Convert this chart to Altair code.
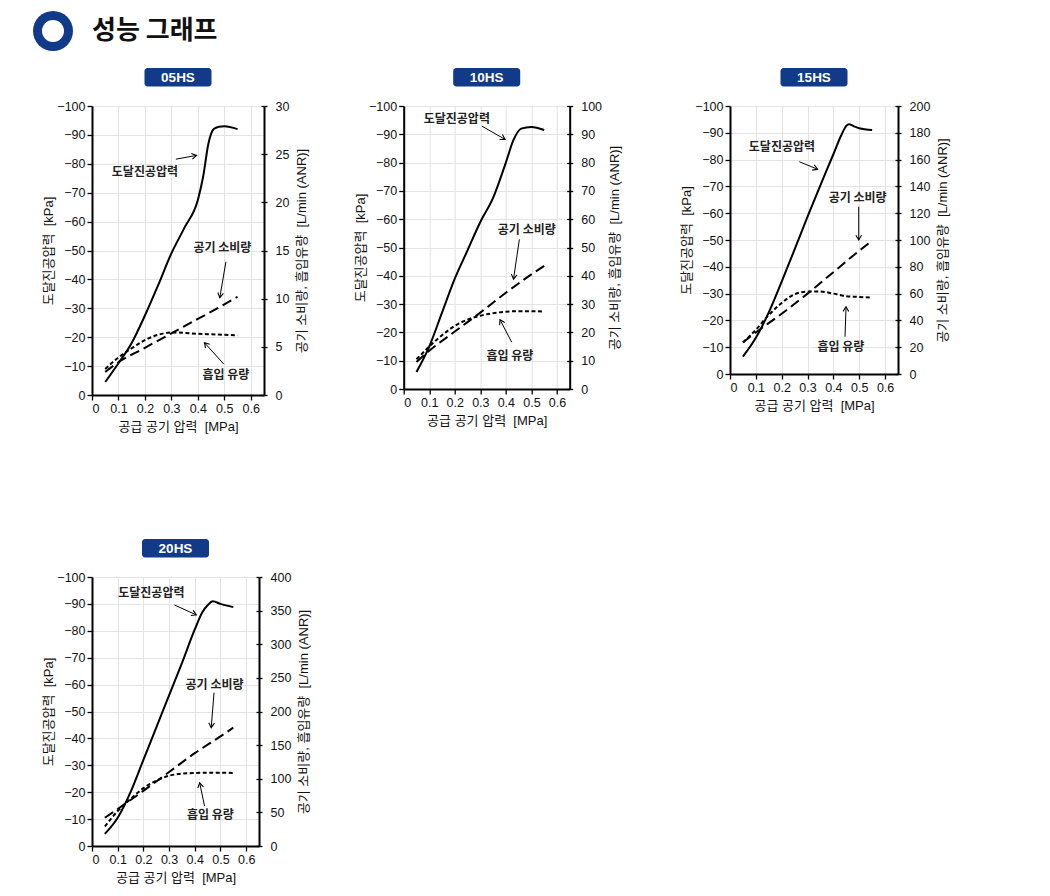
import math
import altair as alt
import pandas as pd

# ---------------- data ----------------
title_text = ["성능 그래프"]
models = ["05HS", "10HS", "15HS", "20HS"]
x_ticks = [0, 0.1, 0.2, 0.3, 0.4, 0.5, 0.6]
left_ticks = [0, -10, -20, -30, -40, -50, -60, -70, -80, -90, -100]
right_max = [30, 100, 200, 400]
right_step = [5, 10, 20, 50]

vac_p_05 = [0.05, 0.1, 0.15, 0.2, 0.25, 0.3, 0.35, 0.4, 0.42, 0.44, 0.46, 0.48, 0.5, 0.55]
vac_05 = [-4.5, -11, -18, -27.5, -38, -49, -58, -67.5, -75.5, -87, -92, -92.8, -93, -92]
vac_p_10 = [0.05, 0.1, 0.15, 0.2, 0.25, 0.3, 0.35, 0.4, 0.43, 0.46, 0.5, 0.55]
vac_10 = [-6, -15, -27, -39, -49, -59, -67.5, -80, -88, -92, -92.6, -91.5]
vac_p_15 = [0.05, 0.1, 0.15, 0.2, 0.25, 0.3, 0.35, 0.4, 0.43, 0.45, 0.46, 0.48, 0.5, 0.55]
vac_15 = [-6.5, -13.5, -23, -34.5, -46.5, -58.7, -70.5, -82, -89, -92.6, -93.2, -92.4, -91.7, -91]
vac_p_20 = [0.05, 0.1, 0.15, 0.2, 0.25, 0.3, 0.35, 0.4, 0.43, 0.45, 0.47, 0.5, 0.55]
vac_20 = [-4.5, -10.5, -20, -32, -44, -56, -68, -80.5, -87, -89.5, -91, -90, -88.8]

air_p = [0.05, 0.1, 0.2, 0.3, 0.4, 0.5, 0.55]
air_05 = [2.4, 3.4, 4.9, 6.4, 7.9, 9.4, 10.2]
air_10 = [9.5, 13.5, 20.3, 27, 34, 40.5, 43.5]
air_15 = [23.5, 31, 45, 60, 76, 92, 99.5]
air_20 = [42, 55, 82, 110, 138, 163, 176]

suc_p = [0.05, 0.1, 0.15, 0.2, 0.25, 0.3, 0.35, 0.4, 0.45, 0.5, 0.55]
suc_05 = [2.7, 3.9, 4.85, 5.7, 6.25, 6.5, 6.45, 6.35, 6.3, 6.25, 6.2]
suc_10 = [10.5, 15, 19, 22.3, 24.5, 25.9, 26.8, 27.3, 27.5, 27.5, 27.4]
suc_15 = [23.5, 33, 44, 53, 59.5, 61.5, 61.5, 60, 58, 57.5, 57]
suc_20 = [29, 52, 70, 86, 97, 104.5, 107.5, 108.5, 109, 109, 108.5]

ann_labels = ["도달진공압력", "공기 소비량", "흡입 유량"]
ann_x_05 = [0.2, 0.493, 0.506]
ann_y_05 = [-77.2, -50.8, -6.9]
arr_x1_05 = [0.317, 0.506, 0.498]
arr_y1_05 = [-81.6, -46.1, -10.7]
arr_x2_05 = [0.395, 0.483, 0.425]
arr_y2_05 = [-82.9, -33.7, -18.1]

ann_x_10 = [0.208, 0.482, 0.416]
ann_y_10 = [-95.3, -56.2, -11.8]
arr_x1_10 = [0.306, 0.453, 0.423]
arr_y1_10 = [-92.9, -52.9, -16.5]
arr_x2_10 = [0.397, 0.430, 0.377]
arr_y2_10 = [-88.2, -38.8, -24.5]

ann_x_15 = [0.201, 0.494, 0.429]
ann_y_15 = [-84.6, -65.8, -10.0]
arr_x1_15 = [0.268, 0.498, 0.445]
arr_y1_15 = [-79.2, -62.4, -13.9]
arr_x2_15 = [0.339, 0.498, 0.449]
arr_y2_15 = [-76.4, -50.0, -25.1]

ann_x_20 = [0.231, 0.477, 0.461]
ann_y_20 = [-93.9, -59.9, -11.5]
arr_x1_20 = [0.321, 0.475, 0.438]
arr_y1_20 = [-89.6, -57.0, -14.9]
arr_x2_20 = [0.406, 0.464, 0.419]
arr_y2_20 = [-85.9, -44.0, -23.5]

# ---------------- layout / style ----------------
NAVY = "#113a88"
KFONT = "Noto Sans CJK KR"
NFONT = "Liberation Sans, Noto Sans CJK KR"
CHEVRON = "M-1,-0.6L0,0L-1,0.6"
PLOT_W = [172, 166, 168, 167]
PLOT_H = [289, 283, 268, 269]
X_MAX = 0.65
GAP = "\u00a0 "


def make_panel(i, vac_p, vac, air, suc, ax, ay, x1, y1, x2, y2):
    w, h = PLOT_W[i], PLOT_H[i]
    rmax, rstep = right_max[i], right_step[i]
    r_ticks = list(range(0, rmax + 1, rstep))

    def xs():
        return alt.Scale(domain=[0, X_MAX], nice=False, zero=False)

    def ys():
        return alt.Scale(domain=[0, -100], nice=False, zero=False)

    def rs():
        return alt.Scale(domain=[0, rmax], nice=False, zero=False)

    def x_axis():
        return alt.Axis(values=x_ticks, format=".1~f", title="공급 공기 압력" + GAP + "[MPa]",
                        grid=True, titlePadding=6)

    y_axis = alt.Axis(values=left_ticks, format="d", title="도달진공압력" + GAP + "[kPa]",
                      grid=True, titlePadding=1)
    r_axis = alt.Axis(orient="right", values=r_ticks, format="d",
                      title="공기 소비량, 흡입유량" + GAP + "[L/min (ANR)]", grid=False,
                      titleAngle=270, titleBaseline="top", tickSize=3, labelPadding=8, titlePadding=7)
    # inner half of the right-axis ticks (ticks cross the axis line)
    r_axis_in = alt.Axis(orient="right", values=r_ticks, offset=-3, domain=False, labels=False,
                         title="", grid=False, tickSize=3)

    vac_df = pd.DataFrame({"p": vac_p, "v": vac})
    vac_line = alt.Chart(vac_df).mark_line(color="black", strokeWidth=2, interpolate="monotone").encode(
        x=alt.X("p:Q", scale=xs(), axis=x_axis()),
        y=alt.Y("v:Q", scale=ys(), axis=y_axis),
    )

    air_df = pd.DataFrame({"p": air_p, "q": air})
    suc_df = pd.DataFrame({"p": suc_p, "q": suc})
    air_line = alt.Chart(air_df).mark_line(color="black", strokeWidth=2, strokeDash=[10, 5],
                                           interpolate="monotone").encode(
        x=alt.X("p:Q", scale=xs(), axis=x_axis()),
        y=alt.Y("q:Q", scale=rs(), axis=r_axis),
    )
    suc_line = alt.Chart(suc_df).mark_line(color="black", strokeWidth=2, strokeDash=[4, 2.5],
                                           interpolate="monotone").encode(
        x=alt.X("p:Q", scale=xs(), axis=x_axis()),
        y=alt.Y("q:Q", scale=rs(), axis=r_axis_in),
    )

    ann_df = pd.DataFrame({"label": ann_labels, "tx": ax, "ty": ay})
    ann_text = alt.Chart(ann_df).mark_text(font=KFONT, fontSize=12, fontWeight="bold", color="#222",
                                           baseline="middle", align="center").encode(
        x=alt.X("tx:Q", scale=xs(), axis=x_axis()),
        y=alt.Y("ty:Q", scale=ys(), axis=None),
        text="label:N",
    )

    px_x = w / X_MAX
    px_y = h / 100.0
    angs = []
    for a, b, c, d in zip(x1, y1, x2, y2):
        angs.append(math.degrees(math.atan2((d - b) * px_y, (c - a) * px_x)) % 360)
    arr_df = pd.DataFrame({"ax1": x1, "ay1": y1, "ax2": x2, "ay2": y2, "ang": angs})
    arr_rule = alt.Chart(arr_df).mark_rule(color="black", strokeWidth=1).encode(
        x=alt.X("ax1:Q", scale=xs(), axis=x_axis()),
        y=alt.Y("ay1:Q", scale=ys(), axis=None),
        x2="ax2:Q", y2="ay2:Q",
    )
    arr_head = alt.Chart(arr_df).mark_point(shape=CHEVRON, size=90, filled=False, color="black",
                                            strokeWidth=1.1, opacity=1).encode(
        x=alt.X("ax2:Q", scale=xs(), axis=x_axis()),
        y=alt.Y("ay2:Q", scale=ys(), axis=None),
        angle=alt.Angle("ang:Q", scale=None),
    )

    badge_df = pd.DataFrame({"model": [models[i]]})
    badge_rect = alt.Chart(badge_df).mark_rect(color=NAVY, cornerRadius=3).encode(
        x=alt.value(w / 2 - 33.5), x2=alt.value(w / 2 + 33.5),
        y=alt.value(-38), y2=alt.value(-19.5),
    )
    badge_text = alt.Chart(badge_df).mark_text(font="Liberation Sans", fontSize=13.5, fontWeight="bold",
                                               color="white", baseline="middle", align="center").encode(
        x=alt.value(w / 2), y=alt.value(-28.5), text="model:N",
    )

    return alt.layer(vac_line, air_line, suc_line, ann_text, arr_rule, arr_head,
                     badge_rect, badge_text).resolve_scale(y="independent").properties(width=w, height=h)


p1 = make_panel(0, vac_p_05, vac_05, air_05, suc_05, ann_x_05, ann_y_05,
                arr_x1_05, arr_y1_05, arr_x2_05, arr_y2_05)
p2 = make_panel(1, vac_p_10, vac_10, air_10, suc_10, ann_x_10, ann_y_10,
                arr_x1_10, arr_y1_10, arr_x2_10, arr_y2_10)
p3 = make_panel(2, vac_p_15, vac_15, air_15, suc_15, ann_x_15, ann_y_15,
                arr_x1_15, arr_y1_15, arr_x2_15, arr_y2_15)
p4 = make_panel(3, vac_p_20, vac_20, air_20, suc_20, ann_x_20, ann_y_20,
                arr_x1_20, arr_y1_20, arr_x2_20, arr_y2_20)

hdr_df = pd.DataFrame({"title": title_text})
ring_outer = alt.Chart(hdr_df).mark_point(shape="circle", size=1600, filled=True, strokeWidth=0,
                                          color=NAVY, opacity=1).encode(x=alt.value(-39), y=alt.value(20))
ring_inner = alt.Chart(hdr_df).mark_point(shape="circle", size=484, filled=True, strokeWidth=0,
                                          color="white", opacity=1).encode(x=alt.value(-39), y=alt.value(20))
htext = alt.Chart(hdr_df).mark_text(font=KFONT, fontSize=26, fontWeight="bold", color="#111",
                                    align="left", baseline="middle").encode(
    x=alt.value(0), y=alt.value(20), text="title:N")
header = alt.layer(ring_outer, ring_inner, htext).properties(width=1, height=1)

row1 = alt.hconcat(p1, alt.hconcat(p2, p3, spacing=58.3), spacing=44.7)
rows = alt.vconcat(row1, p4, spacing=105)

chart = alt.vconcat(header, rows, spacing=17).properties(
    padding={"left": 25, "top": 3, "right": 5, "bottom": 0}
).configure_view(strokeWidth=0).configure_axis(
    domainColor="black", domainWidth=2, tickColor="black", tickWidth=1.3, tickSize=5,
    labelFont=NFONT, labelFontSize=12.5, labelColor="#111", labelPadding=2,
    titleFont=NFONT, titleFontSize=13, titleFontWeight="normal", titleColor="#111",
    gridColor="#e3e3e3", gridWidth=1,
)

chart.save("out.html", embed_options={"renderer": "svg", "actions": False})
